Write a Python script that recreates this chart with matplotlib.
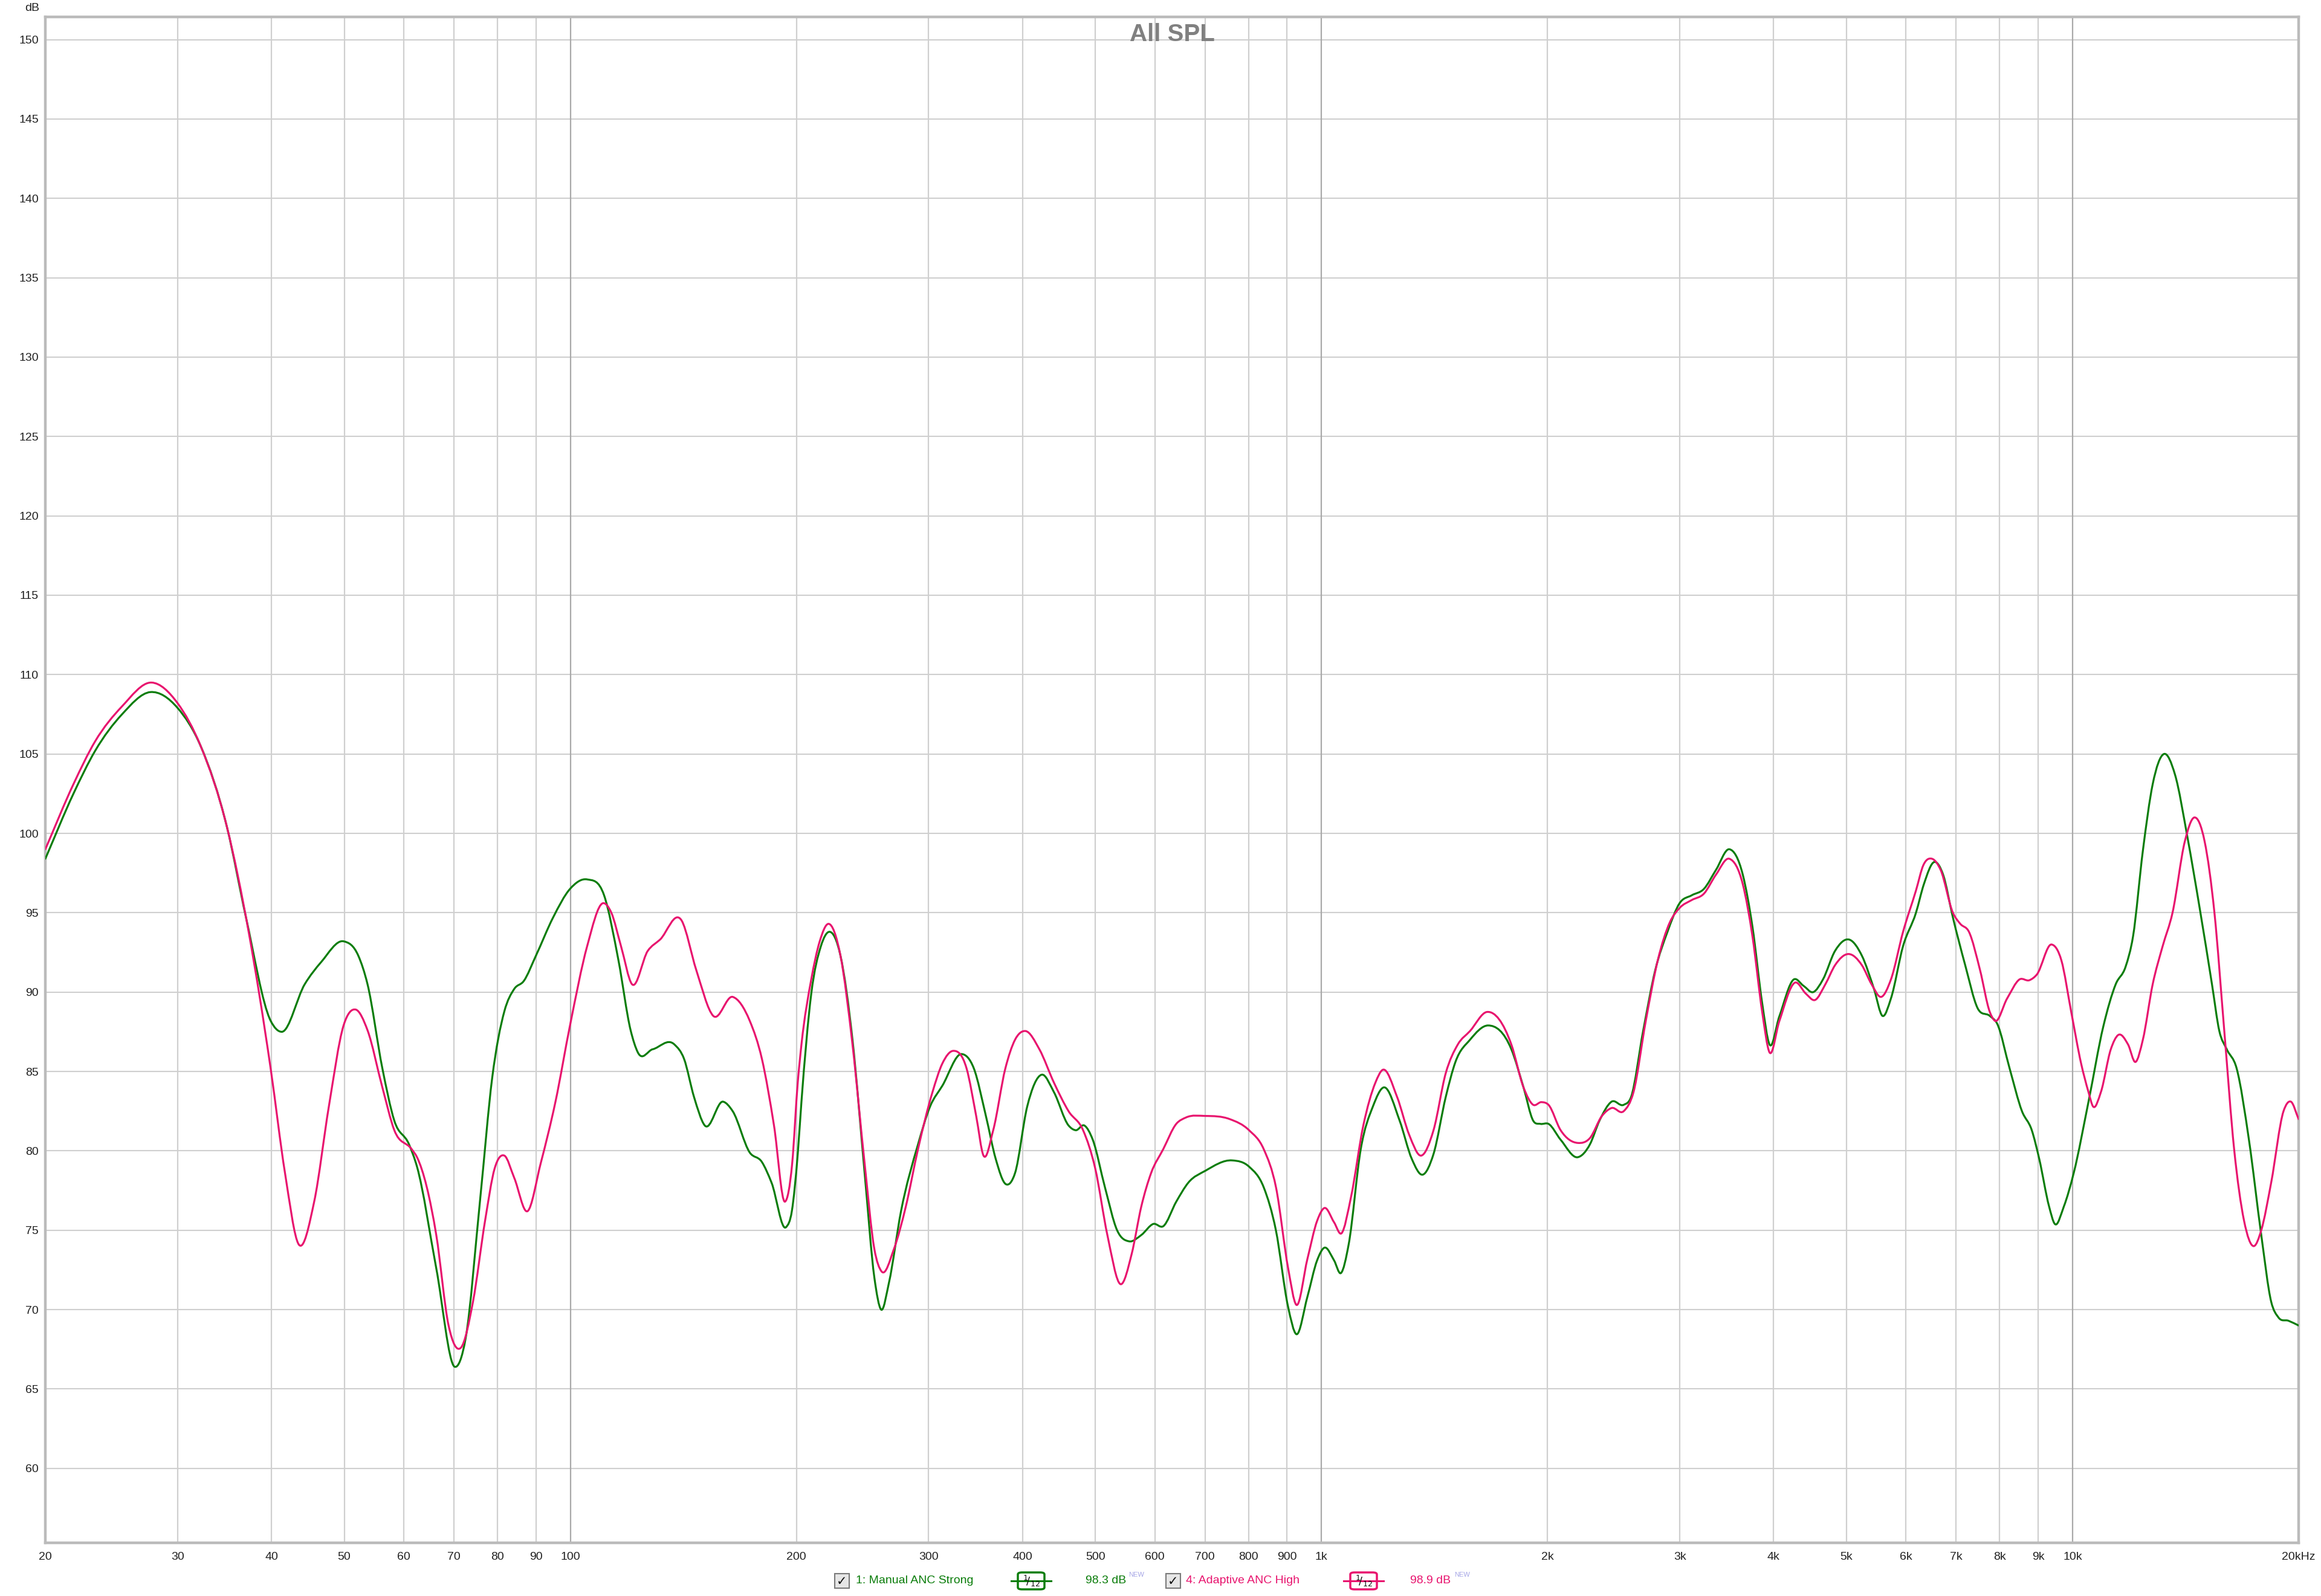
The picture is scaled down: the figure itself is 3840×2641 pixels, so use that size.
import matplotlib
matplotlib.use("Agg")
import matplotlib.pyplot as plt
from matplotlib.patches import Rectangle, FancyBboxPatch, PathPatch
from matplotlib.lines import Line2D
from matplotlib.path import Path
import numpy as np

# ---- data ----
green_f = [20, 21.8, 23.3, 25.3, 27.6, 30, 32.2, 34.9, 37.0, 39.9, 41.3, 44.3, 46.6, 49.9, 52.2, 53.7,
           56.2, 58.3, 61.0, 62.5, 66.3, 70.15, 72.55, 75.9, 78.7, 81.7, 84.2, 86.7, 90.0, 94.85, 99.9,
           105.3, 110.9, 115.9, 120.3, 123.0, 128.7, 137.6, 141.7, 146.1, 151.0, 159.7, 164.5, 173.3,
           179.9, 185.3, 193.8, 197.2, 200.8, 203.1, 209.3, 215.6, 221.3, 228.9, 237.5, 246.5, 254.0,
           259.3, 265.6, 275.6, 290.3, 301.3, 312.8, 331.9, 344.5, 357.5, 368.4, 380.1, 390.9, 405.8,
           424.3, 440.4, 460.6, 471, 483.4, 496.1, 515, 534.5, 554.8, 575.7, 597.6, 615.6, 640.8, 665,
           700.8, 760.6, 801.3, 837.9, 869.7, 902.6, 926.2, 957.8, 986.8, 1009, 1039.5, 1061.5, 1087,
           1128, 1171, 1211, 1271, 1319, 1364, 1410, 1464, 1508, 1577, 1667, 1790, 1858, 1914, 1957,
           2006, 2082, 2194, 2277, 2345, 2434, 2526, 2584, 2681, 2783, 2889, 2998, 3112, 3230, 3352,
           3492, 3639, 3749, 3862, 3950, 4069, 4255, 4383, 4516, 4653, 4829, 5050, 5242, 5441, 5585,
           5731, 5948, 6188, 6340, 6550, 6725, 6930, 7196, 7473, 7760, 7939, 8245, 8564, 8826, 9029,
           9306, 9470, 9738, 10036, 10502, 10991, 11416, 11766, 12037, 12406, 12786, 13232, 13691,
           14218, 14765, 15333, 15683, 16045, 16537, 17173, 17835, 18385, 18805, 19383, 20000]
green_db = [98.4, 102.5, 105.2, 107.5, 108.9, 107.9, 105.5, 100.4, 94.7, 88.2, 87.5, 90.5, 91.9, 93.2, 92.3, 90.5,
            85.2, 81.9, 80.4, 79.0, 72.6, 66.4, 68.2, 77.1, 84.6, 88.8, 90.2, 90.7, 92.3, 94.7, 96.5,
            97.1, 96.1, 92.0, 87.6, 86.2, 86.4, 86.7, 85.8, 83.4, 81.6, 83.1, 82.5, 79.9,
            79.3, 78.0, 75.2, 76.2, 79.8, 83.1, 89.9, 92.9, 93.8, 92.3, 87.0, 78.6, 72.0,
            70.0, 71.7, 76.2, 80.4, 82.8, 84.1, 86.1, 85.2, 82.2, 79.5, 77.9, 78.6, 82.8,
            84.8, 83.7, 81.6, 81.3, 81.6, 80.7, 77.7, 75.0, 74.3, 74.7, 75.4, 75.25, 76.8, 78.0,
            78.75, 79.4, 79.0, 77.7, 75.0, 70.2, 68.45, 70.8, 73.1, 73.9, 73.1, 72.3, 74.1,
            80.1, 82.8, 84.0, 81.9, 79.5, 78.5, 79.8, 83.4, 85.6, 87.0, 87.9, 86.4, 84.0, 81.9, 81.7,
            81.7, 80.7, 79.6, 80.4, 81.9, 83.1, 82.9, 83.4, 87.55, 91.4, 93.8, 95.6, 96.1, 96.5, 97.7,
            99.0, 97.4, 94.1, 89.3, 86.7, 88.45, 90.8, 90.4, 90.0, 90.8, 92.6, 93.3, 92.3, 90.2, 88.5,
            89.6, 92.9, 95.0, 96.8, 98.2, 97.4, 94.7, 91.7, 89.0, 88.5, 88.0, 85.2, 82.5, 81.3, 79.5,
            76.5, 75.4, 76.5, 78.6, 83.1, 87.85, 90.5, 91.6, 93.5, 98.9, 103.1, 105.0, 103.7,
            99.8, 95.3, 90.5, 87.55, 86.4, 85.2, 80.7, 74.7, 70.5, 69.5, 69.3, 69.0]

pink_f = [20, 21.8, 23.3, 25.3, 27.7, 30, 32.2, 34.9, 37.3, 39.9, 41.7, 43.5, 45.6, 47.7, 49.9, 51.8,
          53.7, 56.2, 58.3, 61.5, 62.5, 66.3, 68.85, 71.5, 74.2, 77.0, 79.3, 81.7, 84.2, 87.7, 91.3,
          95.55, 99.9, 105.3, 110.5, 113.4, 116.8, 120.8, 126.8, 131.6, 140.7, 147.1, 155.0, 164.5,
          173.3, 179.9, 186.7, 193.1, 197.4, 200.8, 203.1, 209.3, 214.8, 220.5, 228.9, 237.5, 246.5,
          254.0, 259.7, 269.6, 279.7, 290.3, 303.5, 312.8, 323.4, 336.9, 347.0, 354.9, 365.6, 379.5,
          390.9, 403.4, 421.2, 440.4, 460.6, 481.6, 499.8, 518.8, 540.5, 558.9, 575.7, 593.2, 615.6,
          640.8, 660, 700.8, 755, 801, 838, 870, 903, 926, 958, 987, 1009, 1039.5, 1063, 1095, 1137,
          1180, 1206, 1261, 1309, 1357, 1410, 1464, 1519, 1577, 1661, 1790, 1858, 1914, 1962, 2006,
          2082, 2194, 2277, 2363, 2434, 2526, 2603, 2702, 2804, 2910, 2998, 3112, 3230, 3352, 3492,
          3639, 3749, 3862, 3950, 4069, 4271, 4416, 4539, 4688, 4829, 5032, 5242, 5400, 5564, 5731,
          5948, 6188, 6330, 6500, 6674, 6930, 7089, 7279, 7530, 7760, 7879, 8183, 8499, 8761, 8961,
          9377, 9664, 9960, 10267, 10502, 10648, 10908, 11245, 11503, 11856, 12129, 12406, 12786,
          13183, 13587, 14110, 14522, 14991, 15450, 15924, 16412, 16918, 17436, 17835, 18385, 19094,
          19531, 20000]
pink_db = [99.0, 103.1, 105.8, 108.0, 109.5, 108.2, 105.5, 100.4, 93.8, 85.2, 78.6, 74.1, 76.8, 82.8, 87.9, 88.9,
           87.6, 84.0, 81.3, 80.1, 79.6, 74.7, 69.0, 67.6, 70.5, 75.6, 78.9, 79.7, 78.3, 76.2, 79.2,
           83.1, 87.9, 92.9, 95.6, 95.0, 92.9, 90.5, 92.6, 93.3, 94.5, 91.4, 88.5, 89.7,
           88.2, 85.8, 81.6, 76.8, 79.2, 84.3, 86.7, 90.8, 93.2, 94.3, 92.3, 86.7, 79.2,
           73.8, 72.4, 73.8, 76.5, 80.1, 83.7, 85.5, 86.3, 85.2, 82.2, 79.7, 81.3, 85.2,
           87.0, 87.55, 86.4, 84.3, 82.5, 81.3, 78.9, 74.7, 71.6, 73.5, 76.5, 78.6, 80.1,
           81.7, 82.1, 82.2, 82.0, 81.3, 80.1, 77.7, 72.6, 70.3, 73.2, 75.6, 76.4, 75.5, 74.8, 77.1, 81.6,
           84.3, 85.1, 83.4, 81.0, 79.7, 81.3, 84.9, 86.7, 87.55, 88.75, 86.7, 84.0, 82.9, 83.07, 82.9,
           81.3, 80.5, 80.8, 82.2, 82.7, 82.5, 83.7, 88.15, 92.0, 94.4, 95.3, 95.8, 96.2, 97.4, 98.4,
           96.8, 93.5, 88.75, 86.2, 88.15, 90.6, 89.9, 89.5, 90.5, 91.7, 92.4, 91.7, 90.5, 89.7, 90.8,
           93.8, 96.4, 98.0, 98.4, 97.7, 95.0, 94.3, 93.8, 91.4, 88.75, 88.2, 89.6, 90.8, 90.75, 91.1,
           93.0, 92.0, 88.75, 85.5, 83.7, 82.8, 83.7, 86.4, 87.3, 86.7, 85.6, 87.0, 90.5,
           92.9, 95.0, 99.5, 101.0, 99.5, 95.0, 87.55, 80.1, 75.6, 74.0, 75.0, 78.0, 82.5,
           83.1, 82.0]

x_ticks = [20, 30, 40, 50, 60, 70, 80, 90, 100, 200, 300, 400, 500, 600, 700, 800, 900,
           1000, 2000, 3000, 4000, 5000, 6000, 7000, 8000, 9000, 10000, 20000]
x_labels = ['20', '30', '40', '50', '60', '70', '80', '90', '100', '200', '300', '400', '500',
            '600', '700', '800', '900', '1k', '2k', '3k', '4k', '5k', '6k', '7k', '8k', '9k',
            '10k', '20kHz']
decades = [100, 1000, 10000]
y_ticks = list(range(60, 151, 5))

GREEN = '#0B7D0B'
PINK = '#E8146E'
W, H = 3840, 2641

plt.rcParams['font.family'] = ['Liberation Sans', 'DejaVu Sans']

fig = plt.figure(figsize=(W / 100, H / 100), dpi=100)
ax = fig.add_axes([75 / W, 1 - 2553 / H, (3803 - 75) / W, (2553 - 28) / H])


def fx(px):
    return px / W


def fy(py):
    return 1 - py / H


def smooth_trace(freqs, levels, color):
    # bezier path through the read points (hermite tangents in log-f), drawn in data coords
    u = np.log10(np.asarray(freqs, float))
    v = np.asarray(levels, float)
    m = np.gradient(v, u)
    verts = [(freqs[0], v[0])]
    codes = [Path.MOVETO]
    for i in range(len(u) - 1):
        d = (u[i + 1] - u[i]) / 3.0
        verts += [(10 ** (u[i] + d), v[i] + m[i] * d),
                  (10 ** (u[i + 1] - d), v[i + 1] - m[i + 1] * d),
                  (freqs[i + 1], v[i + 1])]
        codes += [Path.CURVE4] * 3
    ax.add_patch(PathPatch(Path(verts, codes), fill=False, edgecolor=color, lw=2.3,
                           joinstyle='round', capstyle='round', zorder=3))


ax.set_xscale('log')
ax.set_xlim(20, 20000)
ax.set_ylim(55.31, 151.43)

# grid
for y in y_ticks:
    ax.axhline(y, color='#CFCFCF', lw=1.5, zorder=1)
for f in x_ticks[1:-1]:
    c = '#A9A9A9' if f in decades else '#CFCFCF'
    ax.axvline(f, color=c, lw=1.6, zorder=1)

smooth_trace(green_f, green_db, GREEN)
smooth_trace(pink_f, pink_db, PINK)

ax.set_xticks(x_ticks)
ax.set_xticklabels(x_labels)
ax.xaxis.set_minor_locator(matplotlib.ticker.NullLocator())
ax.set_yticks(y_ticks)
ax.tick_params(axis='both', length=0, labelsize=14, colors='#222222')
ax.tick_params(axis='x', pad=11)
ax.tick_params(axis='y', pad=8)

for s in ax.spines.values():
    s.set_color('#BBBBBB')
    s.set_linewidth(3.2)

fig.text(fx(65), fy(13), 'dB', ha='right', va='center', fontsize=14, color='#222222')
fig.text(fx(1939), fy(57), 'All SPL', ha='center', va='center', fontsize=29,
         fontweight='bold', color='#808080')

# legend row at the bottom
ly = fy(2616)


def checkbox(x0):
    fig.patches.append(Rectangle((fx(x0), fy(2628)), 24 / W, 24 / H, transform=fig.transFigure,
                                 facecolor='#E6E6E6', edgecolor='#7A7A7A', lw=1.5))
    fig.text(fx(x0 + 12), fy(2617), '\u2713', ha='center', va='center', fontsize=15,
             fontweight='bold', color='#111111', family='DejaVu Sans')


def smooth_box(x0, color):
    fig.lines.append(Line2D([fx(x0), fx(x0 + 66)], [ly, ly], transform=fig.transFigure,
                            color=color, lw=2.2))
    fig.patches.append(FancyBboxPatch((fx(x0 + 11), fy(2630)), 44 / W, 28 / H,
                                      boxstyle='round,pad=0,rounding_size=0.0018',
                                      transform=fig.transFigure, facecolor='white',
                                      edgecolor=color, lw=2.5, mutation_aspect=H / W))
    fig.text(fx(x0 + 33), ly, r'$^{1}\!/_{12}$', ha='center', va='center', fontsize=13,
             color='#111111')


checkbox(1381)
fig.text(fx(1416), ly, '1: Manual ANC Strong', ha='left', va='center', fontsize=14, color=GREEN)
smooth_box(1673, GREEN)
fig.text(fx(1796), ly, '98.3 dB', ha='left', va='center', fontsize=14, color=GREEN)
fig.text(fx(1867), fy(2606), 'NEW', ha='left', va='center', fontsize=8, color='#A6A6E6')

checkbox(1929)
fig.text(fx(1962), ly, '4: Adaptive ANC High', ha='left', va='center', fontsize=14, color=PINK)
smooth_box(2223, PINK)
fig.text(fx(2333), ly, '98.9 dB', ha='left', va='center', fontsize=14, color=PINK)
fig.text(fx(2406), fy(2606), 'NEW', ha='left', va='center', fontsize=8, color='#A6A6E6')

fig.savefig('out.png', dpi=100, facecolor='white')
